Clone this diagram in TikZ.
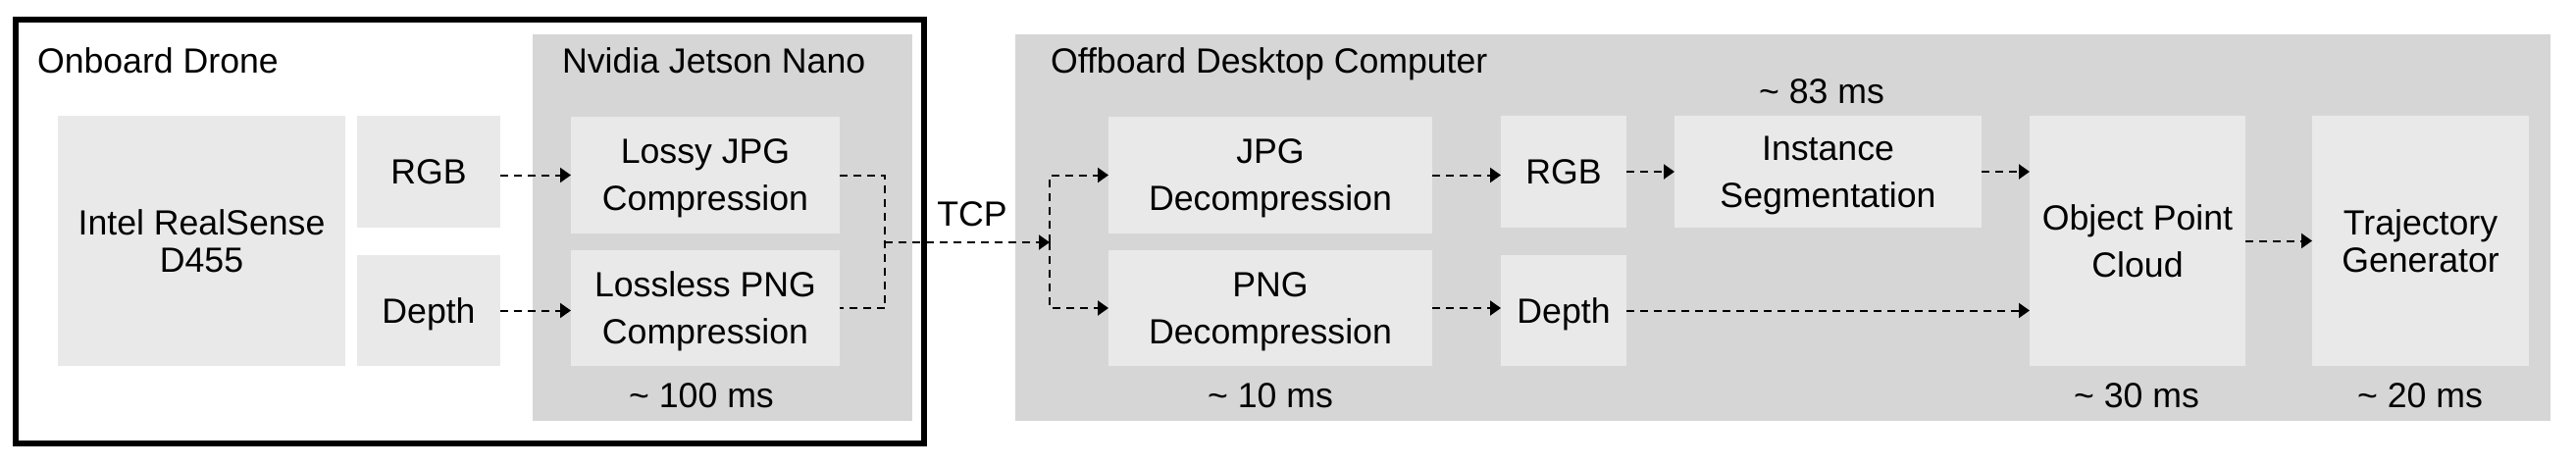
\documentclass[tikz,border=0pt]{standalone}
\usepackage{fontspec}
\setmainfont{Liberation Sans}
\usetikzlibrary{arrows.meta}
\definecolor{outergray}{HTML}{D6D6D6}
\definecolor{innergray}{HTML}{E9E9E9}
\tikzset{
  region/.style={fill=outergray, draw=none, inner sep=0pt, outer sep=0pt},
  blk/.style={fill=innergray, draw=none, inner sep=0pt, outer sep=0pt, align=center,
    text depth=0pt, font=\fontsize{10.7}{14.4}\selectfont},
  tightblk/.style={blk, font=\fontsize{10.7}{11.2}\selectfont},
  lbl/.style={inner sep=0pt, outer sep=0pt, font=\fontsize{10.7}{13}\selectfont},
  dl/.style={line width=0.6pt, dash pattern=on 2.4pt off 1.8pt},
  arr/.style={dl, -{Triangle[length=3.3pt,width=4.5pt]}}
}
\begin{document}
\begin{tikzpicture}[x=0.3pt, y=-0.3pt]
\useasboundingbox (0,0) rectangle (2626,475);
% frames
\node[draw=black, line width=2pt, fill=white, inner sep=0pt, minimum width=277.8pt, minimum height=129.6pt] (drone) at (479,236) {};
\node[region, minimum width=116.1pt, minimum height=118.2pt] (jetson) at (736.5,232) {};
\node[region, minimum width=469.5pt, minimum height=118.2pt] (offboard) at (1817.5,232) {};
% titles
\node[lbl, anchor=base west] (tdrone) at (38,74) {Onboard Drone};
\node[lbl, anchor=base west] (tjetson) at (573,74) {Nvidia Jetson Nano};
\node[lbl, anchor=base west] (toff) at (1071,74) {Offboard Desktop Computer};
% blocks
\node[tightblk, minimum width=87.9pt, minimum height=76.5pt] (intel) at (205.5,245.5) {Intel RealSense\\D455};
\node[blk, minimum width=43.8pt, minimum height=34.2pt] (rgb1) at (437,175) {RGB};
\node[blk, minimum width=43.8pt, minimum height=33.9pt] (depth1) at (437,316.5) {Depth};
\node[blk, minimum width=82.2pt, minimum height=35.7pt] (lossy) at (719,178.5) {Lossy JPG\\Compression};
\node[blk, minimum width=82.2pt, minimum height=35.4pt] (lossless) at (719,314) {Lossless PNG\\Compression};
\node[blk, minimum width=99pt, minimum height=35.7pt] (jpgd) at (1295,178.5) {JPG\\Decompression};
\node[blk, minimum width=99pt, minimum height=35.4pt] (pngd) at (1295,314) {PNG\\Decompression};
\node[blk, minimum width=38.4pt, minimum height=34.2pt] (rgb2) at (1594,175) {RGB};
\node[blk, minimum width=38.4pt, minimum height=33.9pt] (depth2) at (1594,316.5) {Depth};
\node[blk, minimum width=93.9pt, minimum height=34.2pt] (inst) at (1863.5,175) {Instance\\Segmentation};
\node[blk, minimum width=66pt, minimum height=76.5pt] (opc) at (2179,245.5) {Object Point\\Cloud};
\node[tightblk, minimum width=66.3pt, minimum height=76.5pt] (traj) at (2467.5,245.5) {Trajectory\\Generator};
% timing labels
\node[lbl, anchor=base] (t100) at (715,415) {\textasciitilde\ 100 ms};
\node[lbl, anchor=base] (t10) at (1295,415) {\textasciitilde\ 10 ms};
\node[lbl, anchor=base] (t83) at (1857,105) {\textasciitilde\ 83 ms};
\node[lbl, anchor=base] (t30) at (2178,415) {\textasciitilde\ 30 ms};
\node[lbl, anchor=base] (t20) at (2467,415) {\textasciitilde\ 20 ms};
\node[lbl, anchor=base] (tcp) at (991,230) {TCP};
% connectors
\coordinate (m) at (902,247);
\coordinate (s) at (1070,247);
\draw[arr] (rgb1.east |- lossy.west) -- (lossy.west);
\draw[arr] (depth1.east) -- (depth1.east -| lossless.west);
\draw[dl] (lossy.east) -| (m) |- (lossless.east);
\draw[arr] (m) -- (s);
\draw[arr] (s) |- (jpgd.west);
\draw[arr] (s) |- (pngd.west);
\draw[arr] (jpgd.east) -- (jpgd.east -| rgb2.west);
\draw[arr] (pngd.east) -- (pngd.east -| depth2.west);
\draw[arr] (rgb2.east) -- (rgb2.east -| inst.west);
\draw[arr] (inst.east) -- (inst.east -| opc.west);
\draw[arr] (depth2.east) -- (depth2.east -| opc.west);
\draw[arr] (opc.east) -- (opc.east -| traj.west);
\end{tikzpicture}
\end{document}
